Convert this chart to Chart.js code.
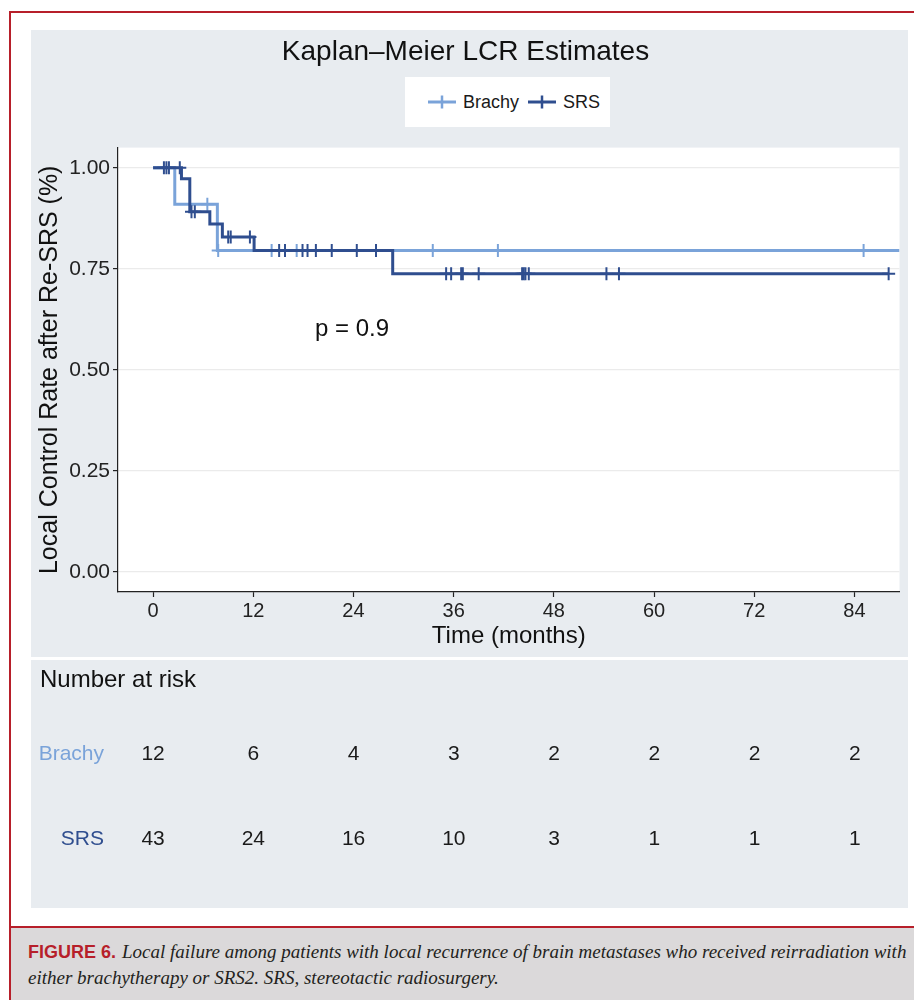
<!DOCTYPE html>
<html>
<head>
<meta charset="utf-8">
<title>Kaplan–Meier LCR Estimates</title>
<script src="https://cdn.jsdelivr.net/npm/chart.js@4.4.1/dist/chart.umd.min.js"></script>
<style>
  body { margin: 0; background: #fff; font-family: "Liberation Sans", Arial, sans-serif; }
  #page { position: relative; width: 914px; height: 1000px; overflow: hidden; }
  .red { position: absolute; background: #b71f2a; }
  .panel { position: absolute; left: 31px; width: 877px; background: #e8ecf0; }
  #kmPanel { top: 30px; height: 627px; }
  #riskPanel { top: 660px; height: 248px; }
  .panel canvas { position: absolute; left: 0; top: 0; }
  #legend { position: absolute; left: 405px; top: 77px; width: 205px; height: 50px; background: #fff;
            display: flex; align-items: center; padding-left: 23px; box-sizing: border-box;
            font-size: 18px; color: #1a1a1a; }
  #legend .item { display: flex; align-items: center; margin-right: 9px; }
  #legend canvas { margin-right: 7px; }
  #caption { position: absolute; left: 11px; top: 928px; width: 903px; height: 72px; background: #dbd9da; }
  #caption p { margin: 0; position: absolute; left: 17px; top: 11px; white-space: nowrap;
               font: italic 19px/26px "Liberation Serif", serif; color: #231f20; }
  #caption b { font: bold 18px "Liberation Sans", sans-serif; color: #b71f2a; margin-right: 6px; }
</style>
</head>
<body>
<div id="page">
  <div class="red" style="left:9px; top:11px; width:905px; height:2px;"></div>
  <div class="red" style="left:9px; top:11px; width:2px; height:989px;"></div>
  <div class="panel" id="kmPanel"><canvas id="km" width="877" height="627"></canvas></div>
  <div class="panel" id="riskPanel"><canvas id="risk" width="877" height="248"></canvas></div>
  <div id="legend"></div>
  <div class="red" style="left:9px; top:926px; width:905px; height:2px;"></div>
  <div id="caption">
    <p><b>FIGURE 6.</b>Local failure among patients with local recurrence of brain metastases who received reirradiation with<br>either brachytherapy or SRS2. SRS, stereotactic radiosurgery.</p>
  </div>
</div>
<script>
const FONT = '"Liberation Sans", Arial, sans-serif';

const strata = ['Brachy', 'SRS'];
const strataColors = ['#7aa3d9', '#2f4e8f'];

// KM steps: time (months) and survival after the step
const brachyTimes = [0, 2.6, 7.7, 89.4];
const brachySurv = [1.0, 0.91, 0.795, 0.795];
const brachyCensor = [6.5, 7.8, 14.2, 17.2, 33.5, 41.3, 85.1];

const srsTimes = [0, 3.4, 4.4, 6.8, 8.3, 12.1, 28.7, 88.1];
const srsSurv = [1.0, 0.973, 0.891, 0.861, 0.829, 0.795, 0.738, 0.738];
const srsCensor = [1.3, 1.6, 1.9, 3.2, 4.6, 5.0, 9.0, 9.3, 11.6, 15.1, 15.8, 17.9, 18.5, 19.5, 21.4,
                   24.4, 26.7, 35.1, 35.7, 36.9, 37.1, 39.0, 44.2, 44.4, 44.6, 45.0, 54.3, 55.8, 88.1];

// number at risk
const riskTimes = [0, 12, 24, 36, 48, 60, 72, 84];
const brachyRisk = [12, 6, 4, 3, 2, 2, 2, 2];
const srsRisk = [43, 24, 16, 10, 3, 1, 1, 1];

const timeTicks = [0, 12, 24, 36, 48, 60, 72, 84];
const survTicks = [0, 0.25, 0.5, 0.75, 1];
const xRange = [-4.2, 89.4];
const yRange = [-0.05, 1.05];

const pValue = 'p = 0.9';
const pValueAt = [19.4, 0.6];

function survAt(times, surv, t) {
  let s = surv[0];
  for (let i = 0; i < times.length; i++) {
    if (times[i] <= t) s = surv[i];
  }
  return s;
}

const curve = (times, surv) => times.map((t, i) => ({ x: t, y: surv[i] }));
const censors = (c, times, surv) => c.map(t => ({ x: t, y: survAt(times, surv, t) }));

// white plot panel behind the curves
const panelFill = {
  id: 'panelFill',
  beforeDraw(chart) {
    const { ctx, chartArea: a } = chart;
    ctx.save();
    ctx.fillStyle = '#fff';
    ctx.fillRect(a.left, a.top, a.right - a.left, a.bottom - a.top);
    ctx.restore();
  }
};

const pLabel = {
  id: 'pLabel',
  afterDatasetsDraw(chart) {
    const { ctx, scales } = chart;
    ctx.save();
    ctx.font = '24px ' + FONT;
    ctx.fillStyle = '#111';
    ctx.textAlign = 'left';
    ctx.textBaseline = 'middle';
    ctx.fillText(pValue, scales.x.getPixelForValue(pValueAt[0]), scales.y.getPixelForValue(pValueAt[1]));
    ctx.restore();
  }
};

const lineSet = (label, data, color, order) => ({
  label, data, showLine: true, stepped: 'before', borderColor: color, backgroundColor: color,
  borderWidth: 3, pointRadius: 0, order
});
const censorSet = (label, data, color, order) => ({
  label, data, showLine: false, pointStyle: 'cross', pointRadius: 6.5, borderWidth: 2,
  borderColor: color, backgroundColor: color, order
});

new Chart(document.getElementById('km'), {
  type: 'scatter',
  data: {
    datasets: [
      lineSet('Brachy', curve(brachyTimes, brachySurv), strataColors[0], 3),
      censorSet('Brachy censored', censors(brachyCensor, brachyTimes, brachySurv), strataColors[0], 2),
      lineSet('SRS', curve(srsTimes, srsSurv), strataColors[1], 1),
      censorSet('SRS censored', censors(srsCensor, srsTimes, srsSurv), strataColors[1], 0)
    ]
  },
  options: {
    responsive: false,
    animation: false,
    layout: { padding: { left: 0, right: 8, top: 0, bottom: 0 } },
    plugins: {
      legend: { display: false },
      tooltip: { enabled: false },
      title: {
        display: true,
        text: 'Kaplan–Meier LCR Estimates',
        color: '#111',
        font: { family: FONT, size: 28, weight: 'normal' },
        padding: { top: 5, bottom: 79 }
      }
    },
    scales: {
      x: {
        type: 'linear',
        min: xRange[0],
        max: xRange[1],
        afterBuildTicks: s => { s.ticks = timeTicks.map(v => ({ value: v })); },
        afterFit: s => { s.height = 65; },
        border: { display: true, color: '#222', width: 1.2 },
        grid: { drawOnChartArea: false, drawTicks: true, tickLength: 5, tickColor: '#222', tickWidth: 1.2 },
        ticks: { color: '#222', font: { family: FONT, size: 20 }, padding: 2, maxRotation: 0 },
        title: {
          display: true, text: 'Time (months)', color: '#111',
          font: { family: FONT, size: 24 }, padding: { top: 6, bottom: 6 }
        }
      },
      y: {
        min: yRange[0],
        max: yRange[1],
        afterBuildTicks: s => { s.ticks = survTicks.map(v => ({ value: v })); },
        afterFit: s => { s.width = 87; },
        border: { display: true, color: '#222', width: 1.2 },
        grid: { color: '#ebebeb', lineWidth: 1.2, tickLength: 5, tickColor: '#222', tickWidth: 1.2 },
        ticks: { color: '#222', font: { family: FONT, size: 21 }, padding: 3, callback: v => v.toFixed(2) },
        title: {
          display: true, text: 'Local Control Rate after Re-SRS (%)', color: '#111',
          font: { family: FONT, size: 25 }, padding: { top: 4, bottom: 4 }
        }
      }
    }
  },
  plugins: [panelFill, pLabel]
});

// risk table: counts drawn at the library's point positions
const riskText = {
  id: 'riskText',
  afterDatasetsDraw(chart) {
    const { ctx } = chart;
    ctx.save();
    ctx.font = '21px ' + FONT;
    ctx.fillStyle = '#1a1a1a';
    ctx.textAlign = 'center';
    ctx.textBaseline = 'middle';
    chart.data.datasets.forEach((ds, i) => {
      chart.getDatasetMeta(i).data.forEach((pt, j) => {
        ctx.fillText(String(ds.data[j].n), pt.x, pt.y);
      });
    });
    ctx.restore();
  }
};

const riskRows = [brachyRisk, srsRisk];

new Chart(document.getElementById('risk'), {
  type: 'scatter',
  data: {
    datasets: strata.map((s, k) => ({
      label: s,
      data: riskTimes.map((t, i) => ({ x: t, y: s, n: riskRows[k][i] })),
      pointRadius: 0
    }))
  },
  options: {
    responsive: false,
    animation: false,
    layout: { padding: { left: 9, right: 8, top: 0, bottom: 16 } },
    plugins: {
      legend: { display: false },
      tooltip: { enabled: false },
      title: {
        display: true,
        text: 'Number at risk',
        align: 'start',
        color: '#111',
        font: { family: FONT, size: 24, weight: 'normal' },
        padding: { top: 6, bottom: 17 }
      }
    },
    scales: {
      x: { type: 'linear', min: xRange[0], max: xRange[1], display: false },
      y: {
        type: 'category',
        labels: strata,
        offset: true,
        afterFit: s => { s.width = 78; },
        grid: { display: false, drawTicks: false },
        border: { display: false },
        ticks: { color: c => strataColors[c.index], font: { family: FONT, size: 21 }, padding: 14 }
      }
    }
  },
  plugins: [riskText]
});

// legend keys: line with a cross, like the censored curves
const legend = document.getElementById('legend');
strata.forEach((s, k) => {
  const item = document.createElement('span');
  item.className = 'item';
  const key = document.createElement('canvas');
  key.width = 28;
  key.height = 14;
  const g = key.getContext('2d');
  g.strokeStyle = strataColors[k];
  g.lineWidth = 3;
  g.beginPath(); g.moveTo(0, 7); g.lineTo(28, 7); g.stroke();
  g.lineWidth = 2.5;
  g.beginPath(); g.moveTo(14, 0.5); g.lineTo(14, 13.5); g.stroke();
  item.appendChild(key);
  item.appendChild(document.createTextNode(s));
  legend.appendChild(item);
});
</script>
</body>
</html>
